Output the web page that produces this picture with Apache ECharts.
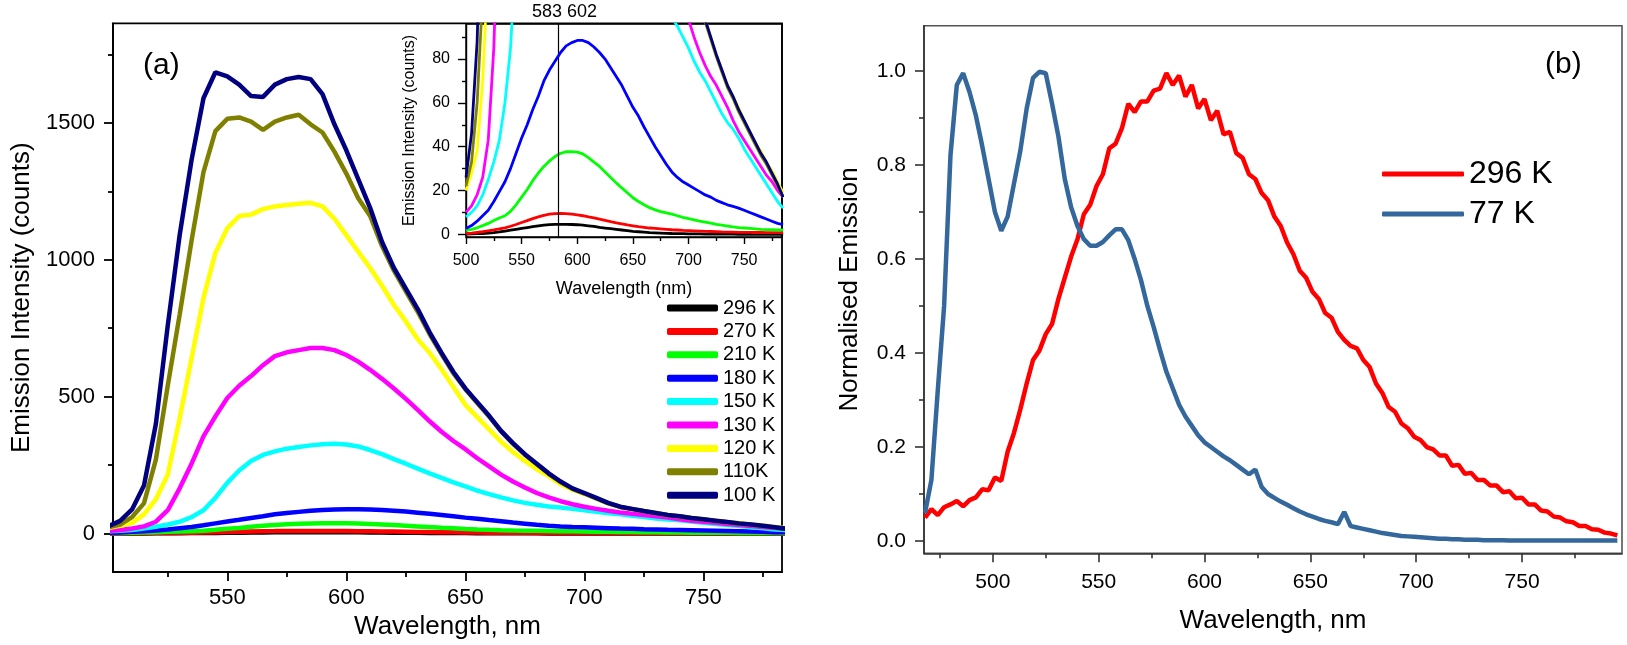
<!DOCTYPE html>
<html><head><meta charset="utf-8">
<script src="https://cdn.jsdelivr.net/npm/echarts@6/dist/echarts.min.js"></script>
<style>
html,body{margin:0;padding:0;background:#fff;width:1627px;height:645px;overflow:hidden;}
#a{position:absolute;left:0;top:0;width:800px;height:645px;}
#b{position:absolute;left:800px;top:0;width:827px;height:645px;}
</style>
</head><body><div id="a"></div><div id="b"></div>
<script>
// ---------------- Panel (a) data ----------------
const wavelengthA = [500,505,510,515,520,525,530,535,540,545,
 550,555,560,565,570,575,580,585,590,595,
 600,605,610,615,620,625,630,635,640,645,
 650,655,660,665,670,675,680,685,690,695,
 700,705,710,715,720,725,730,735,740,745,
 750,755,760,765,770,775,780,785];
const int296K = [0.1,0.2,0.3,0.4,0.6,0.8,1.1,1.5,1.9,2.3,
 2.7,3.1,3.5,3.9,4.2,4.4,4.6,4.6,4.6,4.5,
 4.4,4.2,3.9,3.6,3.2,2.9,2.6,2.3,2.0,1.7,
 1.4,1.2,1.0,0.8,0.7,0.6,0.5,0.4,0.35,0.3,
 0.25,0.2,0.2,0.15,0.15,0.1,0.1,0.1,0.1,0.05,
 0.05,0,0,0,0,0,0,0];
const int270K = [0.4,0.6,0.9,1.2,1.6,2.0,2.5,3.0,3.7,4.5,
 5.4,6.3,7.2,8.0,8.7,9.2,9.5,9.6,9.5,9.2,
 8.9,8.5,8.0,7.5,7.0,6.4,5.8,5.3,4.8,4.3,
 3.9,3.5,3.2,2.9,2.7,2.5,2.3,2.1,2.0,1.8,
 1.7,1.6,1.5,1.4,1.3,1.2,1.1,1.05,1.0,0.95,
 0.9,0.9,0.85,0.85,0.8,0.8,0.8,0.8];
const int210K = [1.8,2.3,3.0,4.0,5.0,6.3,7.5,8.5,10.5,13.5,
 17,20.5,24.5,28,31,33.5,35.5,37,37.7,37.8,
 37.5,36.7,35,33,31,28.5,26,23.5,21.2,19,
 16.7,15,13.5,12.2,11.2,10.4,9.8,9.2,8.5,7.8,
 7.2,6.6,6.0,5.6,5.1,4.6,4.2,3.8,3.4,3.1,
 2.9,2.7,2.5,2.3,2.2,2.1,2.0,2.0];
const int180K = [2.7,4,6,8.5,11,15,19.5,24,30,37,
 44,50,57,63,70,75,79,83,86,87.5,
 88.5,88.5,87.5,85.5,83,80,76,72,68,63,
 58,54,49,44.5,40,36,32,28.5,26,24,
 22.5,21,19.5,18,17,15.5,14.5,13.5,12.8,12,
 11,10,9,8,7,6,5,4.5];
const int150K = [8,10,13,18,25,33,43,60,85,130,
 185,230,265,287,300,310,316,322,326,328,
 325,318,305,290,272,255,237,220,203,187,
 172,157,144,132,121,112,105,99,95,90,
 85,79,74,70,65,60,55,51,48,44,
 39,35,31,27,23,19,15,12];
const int130K = [10,13,18,26,43,85,165,255,355,428,
 495,540,575,615,648,662,670,678,678,670,
 652,628,598,565,530,492,452,410,372,338,
 308,275,245,215,190,168,148,132,118,107,
 98,90,83,77,72,68,63,58,52,47,
 43,39,35,31,27,24,20,17];
const int120K = [20,28,38,70,125,215,420,640,860,1025,
 1115,1160,1165,1185,1195,1200,1205,1208,1195,1150,
 1090,1030,970,905,835,775,710,660,600,535,
 470,425,380,335,298,265,235,210,180,160,
 145,128,111,98,90,82,75,68,63,58,
 52,47,42,38,33,29,24,19];
const int110K = [22,33,60,110,270,540,800,1070,1320,1470,
 1515,1520,1505,1475,1505,1520,1530,1495,1465,1395,
 1315,1225,1160,1050,960,885,810,728,655,585,
 527,477,427,373,328,288,253,218,188,163,
 146,128,110,97,89,81,74,67,62,56,
 51,46,41,36,32,27,22,17];
const int100K = [26,46,88,175,400,760,1090,1365,1590,1685,
 1670,1640,1598,1595,1640,1660,1668,1660,1605,1495,
 1400,1295,1190,1065,970,895,820,735,660,590,
 530,480,430,375,330,290,255,220,190,165,
 148,130,112,98,90,82,75,68,63,57,
 52,47,42,37,33,28,23,17];
const namesA = ['296 K','270 K','210 K','180 K','150 K','130 K','120 K','110K','100 K'];
const valuesA = [int296K,int270K,int210K,int180K,int150K,int130K,int120K,int110K,int100K];

const mainXTicks = [550,600,650,700,750];
const mainXMinor = [525,575,625,675,725,775];
const mainYTicks = [0,500,1000,1500];
const mainYMinor = [250,750,1250,1750];
const insetXTicks = [500,550,600,650,700,750];
const insetXMinor = [525,575,625,675,725,775];
const insetYTicks = [0,20,40,60,80];
const insetYMinor = [10,30,50,70,90];
const markerWavelength = 583;
const peakLabels = [583, 602];

// ---------------- Panel (b) data ----------------
const wavelengthB = [468,471,474,477,480,483,486,489,492,495,
 498,501,504,507,510,513,516,519,522,525,
 528,531,534,537,540,543,546,549,552,555,
 558,561,564,567,570,573,576,579,582,585,
 588,591,594,597,600,603,606,609,612,615,
 618,621,624,627,630,633,636,639,642,645,
 648,651,654,657,660,663,666,669,672,675,
 678,681,684,687,690,693,696,699,702,705,
 708,711,714,717,720,723,726,729,732,735,
 738,741,744,747,750,753,756,759,762,765,
 768,771,774,777,780,783,786,789,792,795];
const norm296K = [0.05,0.068,0.055,0.072,0.078,0.085,0.074,0.087,0.093,0.11,
 0.108,0.135,0.128,0.19,0.23,0.28,0.335,0.385,0.405,0.44,
 0.462,0.515,0.56,0.605,0.642,0.695,0.715,0.755,0.78,0.835,
 0.845,0.878,0.93,0.912,0.935,0.935,0.958,0.962,0.995,0.97,
 0.99,0.945,0.97,0.92,0.94,0.895,0.915,0.865,0.87,0.825,
 0.815,0.78,0.77,0.74,0.725,0.69,0.67,0.635,0.61,0.575,
 0.56,0.53,0.515,0.485,0.475,0.445,0.428,0.415,0.41,0.385,
 0.37,0.335,0.315,0.285,0.275,0.25,0.24,0.222,0.215,0.2,
 0.195,0.182,0.182,0.16,0.162,0.143,0.145,0.13,0.13,0.118,
 0.118,0.104,0.106,0.091,0.092,0.078,0.078,0.065,0.063,0.052,
 0.05,0.042,0.04,0.032,0.032,0.025,0.024,0.018,0.016,0.012];
const norm77K = [0.06,0.13,0.32,0.50,0.82,0.97,0.995,0.955,0.905,0.84,
 0.77,0.70,0.66,0.69,0.76,0.83,0.92,0.985,0.998,0.995,
 0.93,0.86,0.77,0.71,0.67,0.642,0.628,0.628,0.636,0.65,
 0.663,0.663,0.64,0.60,0.555,0.50,0.455,0.406,0.36,0.325,
 0.29,0.265,0.245,0.225,0.21,0.20,0.19,0.18,0.172,0.162,
 0.152,0.142,0.152,0.115,0.10,0.092,0.084,0.077,0.07,0.063,
 0.057,0.052,0.047,0.043,0.04,0.036,0.062,0.032,0.029,0.026,
 0.023,0.02,0.017,0.015,0.013,0.011,0.01,0.009,0.008,0.007,
 0.006,0.005,0.005,0.004,0.004,0.003,0.003,0.003,0.002,0.002,
 0.002,0.002,0.001,0.001,0.001,0.001,0.001,0.001,0.001,0.001,
 0.001,0.001,0.001,0.001,0.001,0.001,0.001,0.001,0.001,0.001];
const namesB = ['296 K','77 K'];
const valuesB = [norm296K, norm77K];
const bXTicks = [500,550,600,650,700,750];
const bXMinor = [475,525,575,625,675,725,775];
const bYTicks = [0,0.2,0.4,0.6,0.8,1.0];
const bYMinor = [0.1,0.3,0.5,0.7,0.9];

// ---------------- styles ----------------
const FONT = '"Liberation Sans", Arial, Helvetica, sans-serif';
const colorsA = ['#000000','#ff0000','#00ff00','#0000ff','#00ffff','#ff00ff','#ffff00','#808000','#000080'];
const colorsB = ['#ff0000','#34679c'];

function majorAxis(o) {
  return {
    type: 'value', gridIndex: o.grid, min: o.min, max: o.max, position: o.pos,
    name: o.name, nameLocation: 'middle', nameGap: o.nameGap,
    nameTextStyle: {fontFamily: FONT, fontSize: o.nameSize, color: '#000'},
    axisLine: {show: true, onZero: false, lineStyle: {color: o.lineColor, width: o.lineWidth}},
    axisTick: {show: true, inside: false, length: o.tickLen, customValues: o.ticks,
               lineStyle: {color: o.lineColor, width: o.lineWidth}},
    axisLabel: {show: true, customValues: o.ticks, margin: o.margin, fontFamily: FONT,
                fontSize: o.labelSize, color: '#000', formatter: o.fmt || (v => String(v))},
    splitLine: {show: false}, axisPointer: {show: false}
  };
}
function minorAxis(o) {
  return {
    type: 'value', gridIndex: o.grid, min: o.min, max: o.max, position: o.pos,
    axisLine: {show: false, onZero: false},
    axisTick: {show: true, inside: false, length: o.minorLen, customValues: o.minor,
               lineStyle: {color: o.lineColor, width: o.lineWidth}},
    axisLabel: {show: false},
    splitLine: {show: false}, axisPointer: {show: false}
  };
}

// ---------------- chart (a) ----------------
const mainX = {grid:0,min:502,max:783,pos:'bottom',ticks:mainXTicks,minor:mainXMinor,tickLen:9,minorLen:5,
  lineColor:'#000',lineWidth:1.8,margin:15,labelSize:22,name:'Wavelength, nm',nameGap:35,nameSize:26};
const mainY = {grid:0,min:-141,max:1864,pos:'left',ticks:mainYTicks,minor:mainYMinor,tickLen:9,minorLen:5,
  lineColor:'#000',lineWidth:1.8,margin:18,labelSize:22,name:'Emission Intensity (counts)',nameGap:77,nameSize:26};
const insetX = {grid:1,min:500,max:784,pos:'bottom',ticks:insetXTicks,minor:insetXMinor,tickLen:7,minorLen:4,
  lineColor:'#000',lineWidth:1.4,margin:16,labelSize:16,name:'Wavelength (nm)',nameGap:43,nameSize:18};
const insetY = {grid:1,min:-1.2,max:96,pos:'left',ticks:insetYTicks,minor:insetYMinor,tickLen:8,minorLen:4,
  lineColor:'#000',lineWidth:1.4,margin:16,labelSize:16,name:'Emission Intensity (counts)',nameGap:48,nameSize:16};

const seriesA = [];
namesA.forEach((n, i) => {
  seriesA.push({
    type: 'line', name: n, xAxisIndex: 0, yAxisIndex: 0,
    data: wavelengthA.map((w, j) => [w, valuesA[i][j]]),
    showSymbol: false, symbol: 'none', smooth: false, clip: true,
    lineStyle: {color: colorsA[i], width: 4.5}, itemStyle: {color: colorsA[i]},
    z: 2 + i, animation: false, silent: true
  });
});
namesA.forEach((n, i) => {
  const s = {
    type: 'line', name: n, xAxisIndex: 2, yAxisIndex: 2,
    data: wavelengthA.map((w, j) => [w, valuesA[i][j]]),
    showSymbol: false, symbol: 'none', smooth: false, clip: true,
    lineStyle: {color: colorsA[i], width: 2.8}, itemStyle: {color: colorsA[i]},
    z: 2 + i, animation: false, silent: true
  };
  if (i === 0) {
    s.markLine = {silent: true, symbol: ['none','none'], label: {show: false},
      lineStyle: {color: '#000', width: 1.2, type: 'solid'}, data: [{xAxis: markerWavelength}], animation: false};
  }
  seriesA.push(s);
});

const chartA = echarts.init(document.getElementById('a'));
chartA.setOption({
  animation: false,
  backgroundColor: '#fff',
  textStyle: {fontFamily: FONT},
  grid: [
    {left: 113, top: 23.3, right: 18, bottom: 72.3, show: true, borderColor: '#000', borderWidth: 1.8, backgroundColor: 'transparent'},
    {left: 466, top: 24, right: 18, bottom: 408, show: true, borderColor: '#000', borderWidth: 1.4, backgroundColor: 'transparent'}
  ],
  xAxis: [majorAxis(mainX), minorAxis(mainX), majorAxis(insetX), minorAxis(insetX)],
  yAxis: [majorAxis(mainY), minorAxis(mainY), majorAxis(insetY), minorAxis(insetY)],
  legend: {
    data: namesA, orient: 'vertical', left: 667, top: 298, itemWidth: 51, itemHeight: 7, itemGap: 3.4,
    icon: 'roundRect', selectedMode: false, padding: 0,
    textStyle: {fontFamily: FONT, fontSize: 20, lineHeight: 20, color: '#000'}
  },
  graphic: [
    {type: 'text', left: 143, top: 51, style: {text: '(a)', font: '30px ' + FONT, fill: '#000'}},
    {type: 'text', left: 532, top: 3, style: {text: peakLabels.join(' '), font: '18px ' + FONT, fill: '#000'}}
  ],
  series: seriesA
});

// ---------------- chart (b) ----------------
const bX = {grid:0,min:467.5,max:797.2,pos:'bottom',ticks:bXTicks,minor:bXMinor,tickLen:9,minorLen:5,
  lineColor:'#333',lineWidth:1.6,margin:18,labelSize:21,name:'Wavelength, nm',nameGap:55,nameSize:26};
const bY = {grid:0,min:-0.026,max:1.096,pos:'left',ticks:bYTicks,minor:bYMinor,tickLen:9,minorLen:5,
  lineColor:'#333',lineWidth:1.6,margin:18,labelSize:21,name:'Normalised Emission',nameGap:61,nameSize:26,
  fmt: v => v.toFixed(1)};

const seriesB = namesB.map((n, i) => ({
  type: 'line', name: n, xAxisIndex: 0, yAxisIndex: 0,
  data: wavelengthB.map((w, j) => [w, valuesB[i][j]]),
  showSymbol: false, symbol: 'none', smooth: false, clip: true,
  lineStyle: {color: colorsB[i], width: 4.5}, itemStyle: {color: colorsB[i]},
  z: 2 + i, animation: false, silent: true
}));

const chartB = echarts.init(document.getElementById('b'));
chartB.setOption({
  animation: false,
  backgroundColor: '#fff',
  textStyle: {fontFamily: FONT},
  grid: [{left: 124, top: 25.7, right: 5, bottom: 91.7, show: true, borderColor: '#555', borderWidth: 1.6, backgroundColor: 'transparent'}],
  xAxis: [majorAxis(bX), minorAxis(bX)],
  yAxis: [majorAxis(bY), minorAxis(bY)],
  legend: {
    data: namesB, orient: 'vertical', left: 582, top: 158, itemWidth: 82, itemHeight: 5, itemGap: 8,
    icon: 'roundRect', selectedMode: false, padding: 0,
    textStyle: {fontFamily: FONT, fontSize: 32, lineHeight: 32, color: '#000'}
  },
  graphic: [
    {type: 'text', left: 745, top: 50, style: {text: '(b)', font: '30px ' + FONT, fill: '#000'}}
  ],
  series: seriesB
});
</script>
</body></html>
